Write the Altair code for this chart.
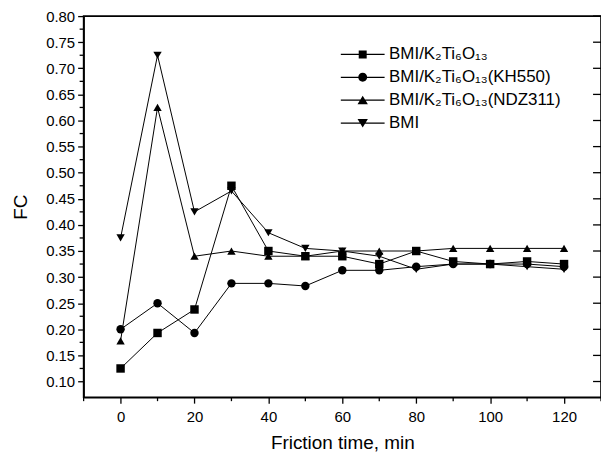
import altair as alt
import pandas as pd

# ---- data ----
times = [0, 10, 20, 30, 40, 50, 60, 70, 80, 90, 100, 110, 120]
series_names = ["BMI/K₂Ti₆O₁₃", "BMI/K₂Ti₆O₁₃(KH550)", "BMI/K₂Ti₆O₁₃(NDZ311)", "BMI"]
fc_k2 = [0.125, 0.193, 0.238, 0.475, 0.350, 0.340, 0.340, 0.325, 0.350, 0.330, 0.325, 0.330, 0.325]
fc_kh550 = [0.200, 0.250, 0.193, 0.288, 0.288, 0.283, 0.313, 0.313, 0.320, 0.325, 0.325, 0.325, 0.320]
fc_ndz311 = [0.178, 0.625, 0.340, 0.350, 0.340, 0.340, 0.350, 0.350, 0.350, 0.355, 0.355, 0.355, 0.355]
fc_bmi = [0.375, 0.725, 0.425, 0.465, 0.385, 0.355, 0.350, 0.340, 0.315, 0.325, 0.325, 0.320, 0.315]

x_major = [0, 20, 40, 60, 80, 100, 120]
x_minor = [-10, 10, 30, 50, 70, 90, 110, 130]
y_major = [0.10, 0.15, 0.20, 0.25, 0.30, 0.35, 0.40, 0.45, 0.50, 0.55, 0.60, 0.65, 0.70, 0.75, 0.80]
y_minor = [0.125, 0.175, 0.225, 0.275, 0.325, 0.375, 0.425, 0.475, 0.525, 0.575, 0.625, 0.675, 0.725, 0.775]

W, H = 520, 383

rows = []
for name, vals in zip(series_names, [fc_k2, fc_kh550, fc_ndz311, fc_bmi]):
    for t, v in zip(times, vals):
        rows.append({"time": t, "fc": v, "series": name})
df = pd.DataFrame(rows)

FONT = "Liberation Sans"

xscale = alt.Scale(domain=[-10, 130], nice=False, zero=False)
yscale = alt.Scale(domain=[0.07, 0.80], nice=False, zero=False)

x_axis = alt.Axis(
    values=x_major,
    format="d",
    tickSize=6,
    title="Friction time, min",
    labelFlush=False,
    labelOverlap=False,
    labelPadding=6,
    titlePadding=10,
)
y_axis = alt.Axis(
    values=y_major,
    format=".2f",
    tickSize=6,
    title="FC",
    labelFlush=False,
    labelOverlap=False,
    labelPadding=3,
    titlePadding=15,
)

X = alt.X("time:Q", scale=xscale, axis=x_axis)
Y = alt.Y("fc:Q", scale=yscale, axis=y_axis)

legend_paths = [
    "M-2.75,-0.075H2.75V0.075H-2.75ZM-0.5,-0.5H0.5V0.5H-0.5Z",
    "M-2.75,-0.075H2.75V0.075H-2.75ZM0.56,0A0.56,0.56 0 1,1 -0.56,0A0.56,0.56 0 1,1 0.56,0Z",
    "M-2.75,-0.075H2.75V0.075H-2.75ZM0,-0.55L0.65,0.5H-0.65Z",
    "M-2.75,-0.075H2.75V0.075H-2.75ZM-0.65,-0.5H0.65L0,0.55Z",
]

legend = alt.Legend(
    title=None,
    orient="none",
    legendX=272,
    legendY=30,
    padding=0,
    labelFont=FONT,
    labelFontSize=17,
    labelColor="black",
    labelOffset=18,
    rowPadding=5,
    symbolSize=256,
    symbolFillColor="black",
    symbolStrokeColor="black",
    symbolStrokeWidth=0.5,
    symbolOpacity=1,
    labelLimit=400,
)

base = alt.Chart(df)

lines = base.mark_line(color="black", strokeWidth=1).encode(
    x=X, y=Y, detail="series:N"
)

points = base.mark_point(filled=True, color="black", opacity=1, strokeWidth=0).encode(
    x=X,
    y=Y,
    shape=alt.Shape(
        "series:N",
        scale=alt.Scale(domain=series_names, range=["square", "circle", "triangle-up", "triangle-down"]),
        legend=None,
    ),
    size=alt.Size(
        "series:N",
        scale=alt.Scale(domain=series_names, range=[72, 70, 115, 115]),
        legend=None,
    ),
)

legend_layer = base.mark_point(filled=True, color="black", opacity=0).encode(
    x=X,
    y=Y,
    shape=alt.Shape(
        "series:N",
        scale=alt.Scale(domain=series_names, range=legend_paths),
        legend=legend,
    ),
)

# minor / inward ticks drawn through the same scales
ymin_df = pd.DataFrame({"fc": y_minor})
ymaj_df = pd.DataFrame({"fc": y_major})
xmin_df = pd.DataFrame({"time": x_minor})

left_minor = alt.Chart(ymin_df).mark_rule(color="black", strokeWidth=1.3).encode(
    y=Y, x=alt.value(-4), x2=alt.value(0)
)

right_ticks = alt.Chart(ymaj_df).mark_rule(color="black", strokeWidth=1.3).encode(
    y=Y, x=alt.value(W - 8), x2=alt.value(W)
)

bottom_minor = alt.Chart(xmin_df).mark_rule(color="black", strokeWidth=1.3).encode(
    x=X, y=alt.value(H), y2=alt.value(H + 4)
)

chart = (
    alt.layer(lines, left_minor, right_ticks, bottom_minor, points, legend_layer)
    .resolve_scale(shape="independent")
    .properties(
        width=W,
        height=H,
        autosize=alt.AutoSizeParams(type="none"),
        padding={"left": 76, "top": 7, "right": 0, "bottom": 62},
        background="white",
    )
    .configure_view(stroke="black", strokeWidth=1.6)
    .configure_axis(
        domainColor="black",
        domainWidth=1.5,
        tickColor="black",
        tickWidth=1.3,
        labelColor="black",
        labelFont=FONT,
        labelFontSize=15,
        titleFont=FONT,
        titleFontSize=19,
        titleFontWeight="normal",
        titleColor="black",
        grid=False,
    )
)

chart.save("out.html", embed_options={"renderer": "svg", "actions": False})
